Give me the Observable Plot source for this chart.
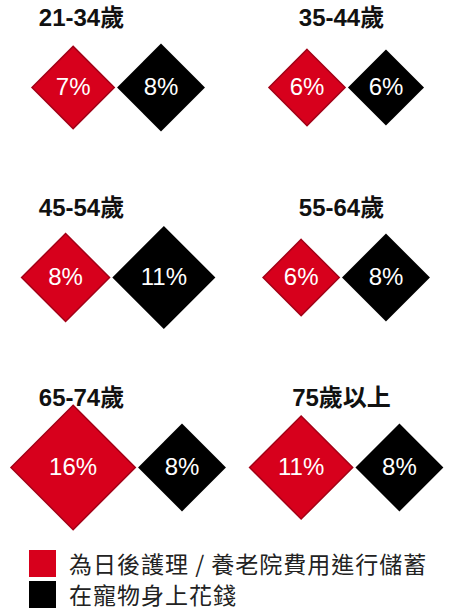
<!DOCTYPE html>
<html><head><meta charset="utf-8">
<script src="https://cdn.jsdelivr.net/npm/d3@7"></script>
<script src="https://cdn.jsdelivr.net/npm/@observablehq/plot@0.6"></script>
<style>
body{margin:0;background:#fff;font-family:"Liberation Sans",Arial,"Noto Sans CJK TC",sans-serif;}
#legend{margin-top:-20px;padding-left:29px;}
.row{display:flex;align-items:center;height:27px;margin-bottom:4px;}
.sw{width:27px;height:27px;margin-right:13px;flex:none;}
.lb{font-family:"Noto Sans CJK TC",sans-serif;font-size:23px;letter-spacing:1px;color:#222;line-height:23px;height:23px;white-space:nowrap;}
</style></head><body>
<div id="chart"></div>
<div id="legend"></div>
<script>
const ageGroups = ["21-34歲","35-44歲","45-54歲","55-64歲","65-74歲","75歲以上"];
const savingsValues = [7, 6, 8, 6, 16, 11];
const petValues = [8, 6, 11, 8, 8, 8];
const seriesNames = ["為日後護理 / 養老院費用進行儲蓄", "在寵物身上花錢"];
const seriesColors = ["#d7001c", "#000000"];

const W = 457, H = 570, ML = 0, MR = 0;
const FW = (W - ML - MR) / 2;
const RMAX = 56, K = RMAX * 1.11 / 4, GAP = 1.5;
const half = v => K * Math.sqrt(v);

const panels = ageGroups.map((age, i) => ({
  age, col: i % 2, row: Math.floor(i / 2), a: savingsValues[i], b: petValues[i]
}));
const cells = panels.flatMap(p => [
  {age: p.age, col: p.col, row: p.row, series: seriesNames[0], value: p.a, x: -(half(p.b) + GAP)},
  {age: p.age, col: p.col, row: p.row, series: seriesNames[1], value: p.b, x: half(p.a) + GAP}
]);

const fontLatin = '"Liberation Sans", Arial, "Noto Sans CJK TC", sans-serif';

const chart = Plot.plot({
  width: W, height: H,
  marginTop: 0, marginBottom: 0, marginLeft: ML, marginRight: MR,
  style: {fontFamily: fontLatin, background: "#fff"},
  fx: {domain: [0, 1], padding: 0, axis: null},
  fy: {domain: [0, 1, 2], padding: 0, axis: null},
  x: {domain: [-FW / 2 - 3, FW / 2 - 3], axis: null},
  r: {type: "sqrt", domain: [0, 16], range: [0, RMAX]},
  marks: [
    Plot.dot(cells.filter(d => d.series === seriesNames[0]), {
      fx: "col", fy: "row", x: "x", r: "value", symbol: "diamond2",
      frameAnchor: "middle", dy: -8,
      fill: seriesColors[0], stroke: "#a30016", strokeWidth: 1.5
    }),
    Plot.dot(cells.filter(d => d.series === seriesNames[1]), {
      fx: "col", fy: "row", x: "x", r: "value", symbol: "diamond2",
      frameAnchor: "middle", dy: -8,
      fill: seriesColors[1], stroke: "none"
    }),
    Plot.text(cells, {
      fx: "col", fy: "row", x: "x", text: d => d.value + "%",
      frameAnchor: "middle", dy: -8, fill: "#fff", fontSize: 24
    }),
    Plot.text(panels.filter(p => p.col === 0), {
      fx: "col", fy: "row", text: "age", frameAnchor: "top", lineAnchor: "middle",
      dx: -34, dy: 18, fontSize: 24, fontWeight: "bold", fill: "#111"
    }),
    Plot.text(panels.filter(p => p.col === 1), {
      fx: "col", fy: "row", text: "age", frameAnchor: "top", lineAnchor: "middle",
      dx: -2, dy: 18, fontSize: 24, fontWeight: "bold", fill: "#111"
    })
  ]
});
document.getElementById("chart").appendChild(chart);

const legend = document.getElementById("legend");
seriesNames.forEach((name, i) => {
  const row = document.createElement("div");
  row.className = "row";
  const sw = document.createElement("div");
  sw.className = "sw";
  sw.style.background = seriesColors[i];
  const lb = document.createElement("div");
  lb.className = "lb";
  lb.textContent = name;
  row.appendChild(sw); row.appendChild(lb);
  legend.appendChild(row);
});
</script>
</body></html>
